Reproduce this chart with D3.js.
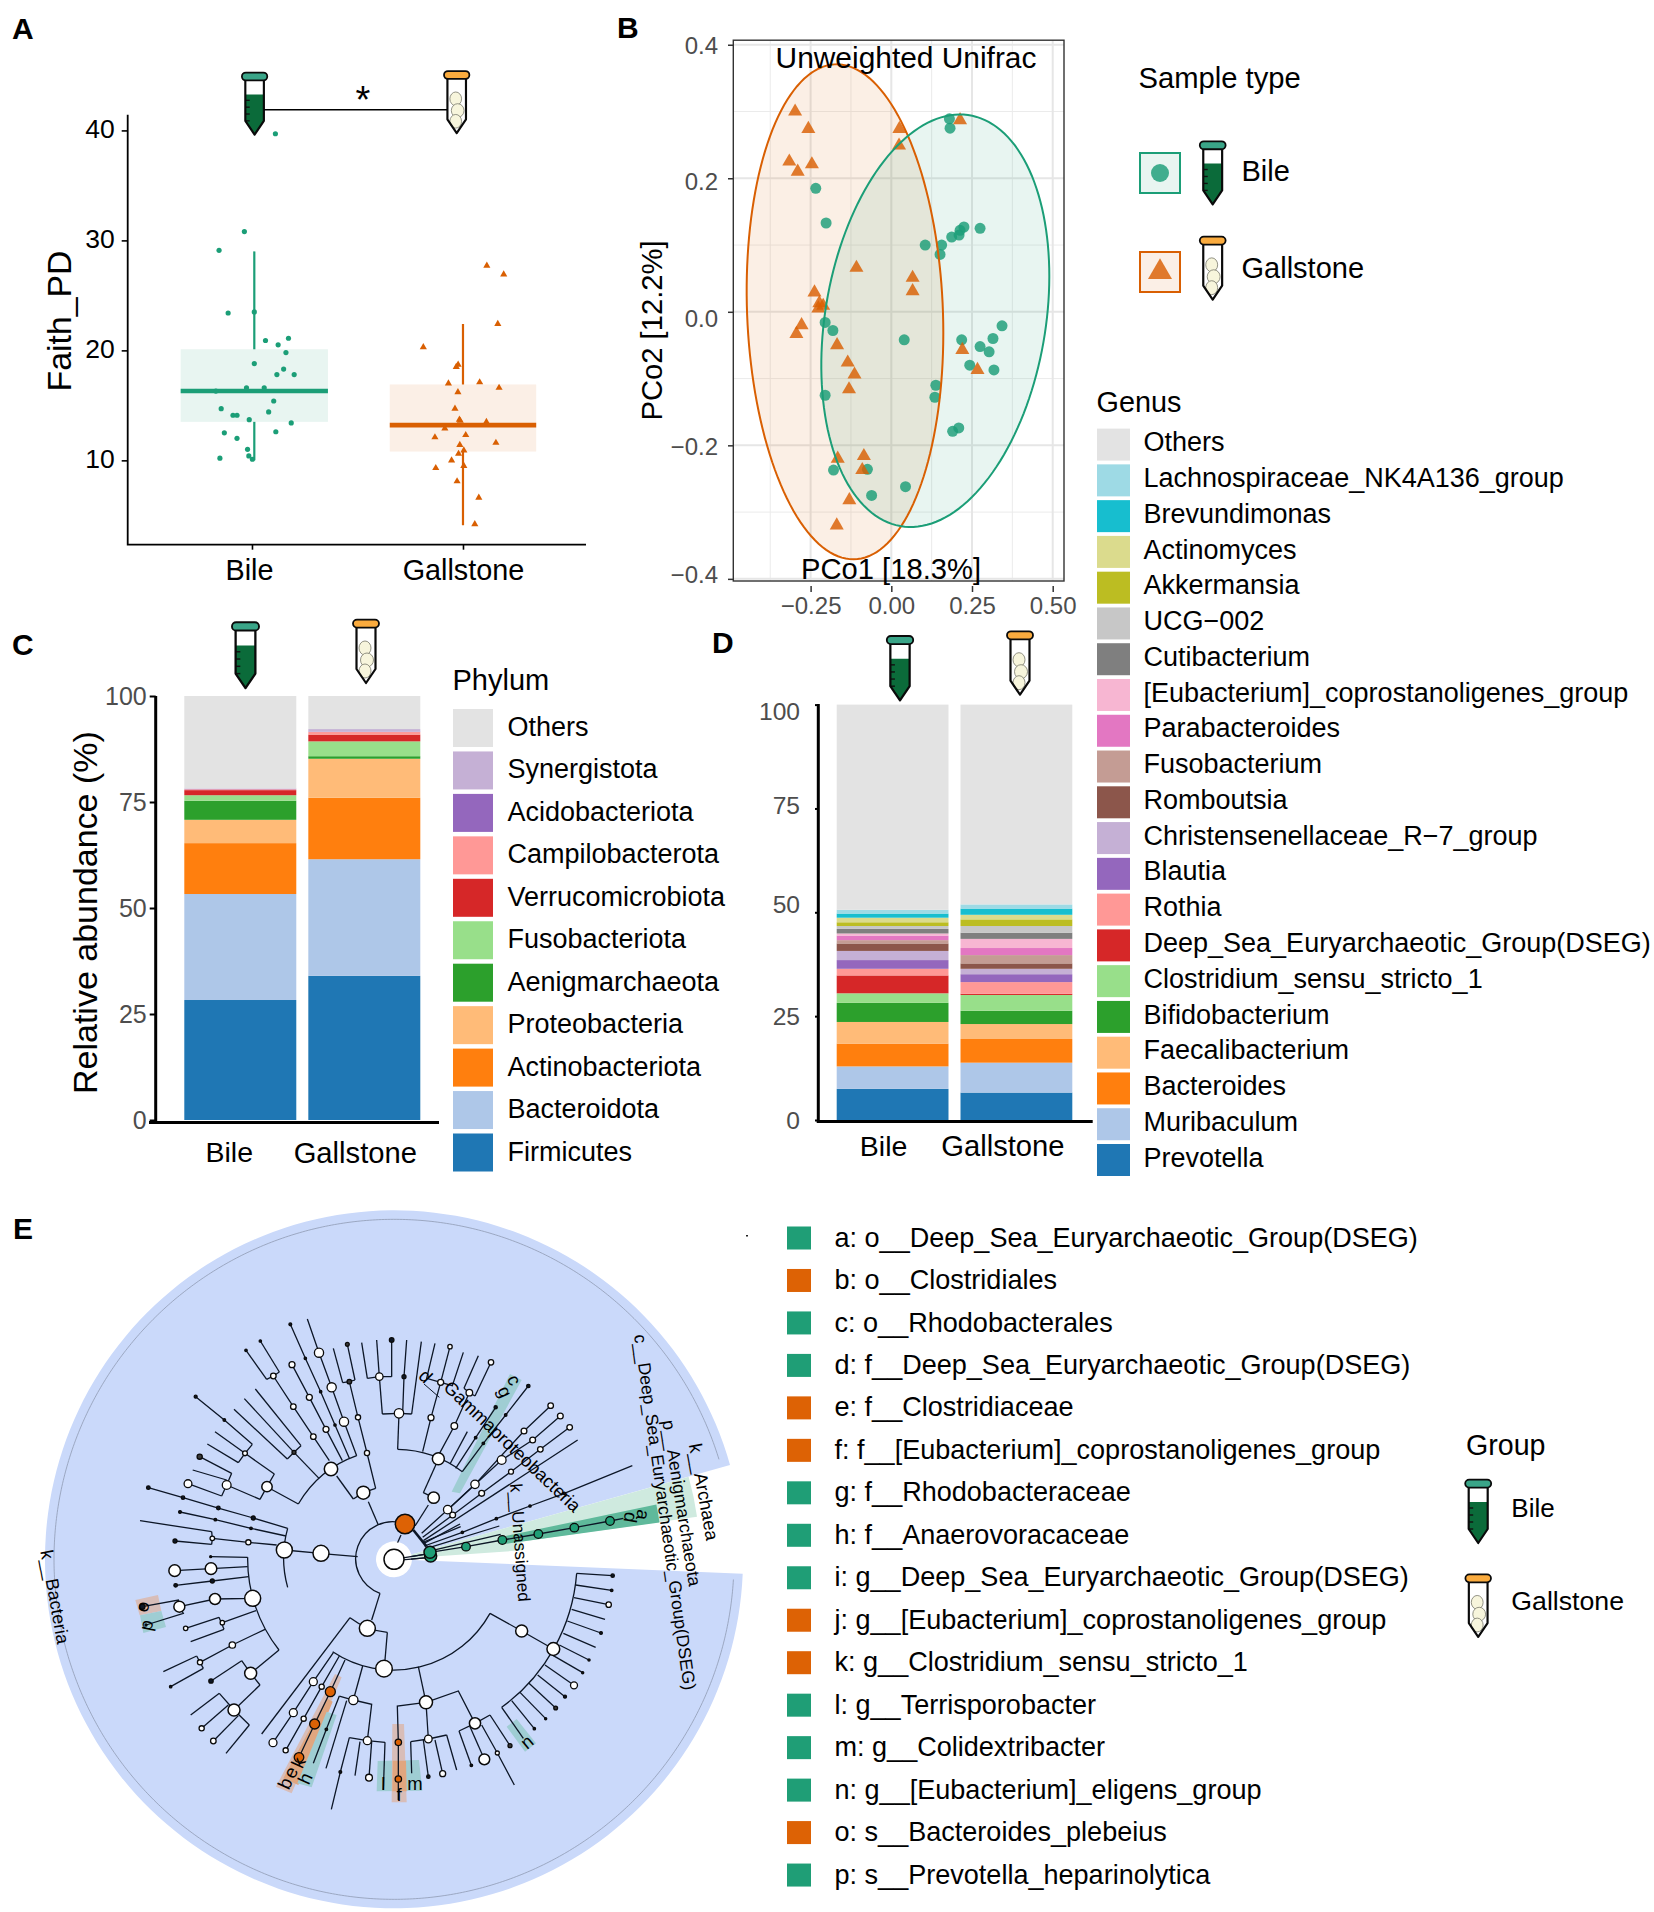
<!DOCTYPE html>
<html><head><meta charset="utf-8">
<script src="https://d3js.org/d3.v7.min.js"></script>
<style>html,body{margin:0;padding:0;background:#fff}svg{display:block}text{font-family:"Liberation Sans",Arial,sans-serif}</style>
</head><body><svg id="c" width="1654" height="1912" xmlns="http://www.w3.org/2000/svg"></svg>
<script>
// ---------- Panel A data ----------
const groups = ['Bile','Gallstone'];
const groupColors = ['#1b9e77','#d95f02'];
const faithBileX = [.111,-.036,-.156,-.113,.011,.064,.173,.124,.161,.011,.15,.118,.2,-.026,.058,-.171,.103,-.146,.079,-.09,-.071,-.013,.186,-.131,.113,-.071,-.021,-.015,.002,-.152];
const faithBileY = [39.7,30.8,29.1,23.4,23.5,20.9,21.1,20.5,19.8,18.8,18.3,17.8,17.8,16.6,16.6,16.3,15.4,14.7,14.4,14.1,14.1,13.7,13.4,12.5,12.6,12.0,11.0,10.4,10.1,10.2];
const faithGallX = [1.113,1.193,1.165,.812,.977,.968,.931,1.079,1.171,.976,.962,.983,.987,1.111,.914,1.013,.867,1.156,.985,1.004,.979,.946,.871,1.004,.972,1.075,1.056];
const faithGallY = [27.7,26.9,22.4,20.3,18.7,18.5,17.0,17.1,16.6,16.2,14.7,13.7,13.6,13.5,12.9,12.3,12.1,11.6,11.4,10.9,10.6,10.0,9.3,9.5,8.1,6.6,4.2];
const boxCenter = [.011,1.0];
const boxHalf = [.349,.347];
const boxQ1 = [13.5,10.8];
const boxMed = [16.3,13.2];
const boxQ3 = [20.1,16.9];
const boxLow = [10.0,4.1];
const boxHigh = [29.0,22.4];
const faithTicks = [10,20,30,40];
// ---------- Panel B data ----------
const pcoGallX = [-.298,-.257,.025,.213,.024,-.316,-.246,-.290,-.108,.066,.066,-.238,-.223,-.211,-.226,-.278,-.294,-.168,.220,-.135,-.114,.267,-.131,-.166,-.085,-.090,-.130,-.169];
const pcoGallY = [.300,.274,.274,.287,.249,.225,.221,.210,.066,.051,.031,.029,.013,.009,.005,-.020,-.033,-.050,-.057,-.076,-.094,-.087,-.116,-.220,-.216,-.237,-.282,-.320];
const pcoBileX = [.180,.182,-.234,-.202,.105,.156,.151,.187,.210,.213,.225,.275,-.205,-.181,.040,.218,.275,.303,.315,.343,.243,.318,.138,.135,-.205,.190,.209,-.179,-.074,-.061,.044];
const pcoBileY = [.289,.275,.185,.133,.100,.100,.086,.112,.115,.122,.127,.125,-.016,-.028,-.042,-.042,-.052,-.060,-.040,-.021,-.080,-.087,-.110,-.128,-.125,-.179,-.174,-.237,-.236,-.275,-.262];
const ellipseGall = {cx:-.1435,cy:0,rx:.3046,ry:.3707,phase:-.085};
const ellipseBile = {cx:.1363,cy:-.0134,rx:.3532,ry:.3089,phase:.218};
const pcoXTicks = [-.25,0,.25,.5];
const pcoYTicks = [-.4,-.2,0,.2,.4];
const pcoXMinor = [-.375,-.125,.125,.375];
const pcoYMinor = [-.3,-.1,.1,.3];
// ---------- Panel C data (bottom to top) ----------
const phyla = ['Firmicutes','Bacteroidota','Actinobacteriota','Proteobacteria','Aenigmarchaeota','Fusobacteriota','Verrucomicrobiota','Campilobacterota','Acidobacteriota','Synergistota','Others'];
const phylaBile = [28.3,25.0,12.0,5.5,4.5,1.3,1.2,.2,.1,.1,21.8];
const phylaGall = [34.0,27.5,14.5,9.2,.6,3.5,1.6,.6,.1,.6,7.8];
const phylaColors = ['#1f77b4','#aec7e8','#ff7f0e','#ffbb78','#2ca02c','#98df8a','#d62728','#ff9896','#9467bd','#c5b0d5','#e3e3e3'];
// ---------- Panel D data (bottom to top) ----------
const genera = ['Prevotella','Muribaculum','Bacteroides','Faecalibacterium','Bifidobacterium','Clostridium_sensu_stricto_1','Deep_Sea_Euryarchaeotic_Group(DSEG)','Rothia','Blautia','Christensenellaceae_R\u22127_group','Romboutsia','Fusobacterium','Parabacteroides','[Eubacterium]_coprostanoligenes_group','Cutibacterium','UCG\u2212002','Akkermansia','Actinomyces','Brevundimonas','Lachnospiraceae_NK4A136_group','Others'];
const generaBile = [7.5,5.4,5.5,5.2,4.6,2.3,4.3,1.6,2.1,2.2,1.8,.8,1.1,.5,1.1,.7,.9,1.1,1.0,.9,49.4];
const generaGall = [6.6,7.2,5.7,3.6,3.2,3.8,.3,2.8,1.9,1.3,1.3,2.0,1.7,2.2,1.5,1.6,1.6,1.1,1.5,1.0,48.1];
const generaColors = ['#1f77b4','#aec7e8','#ff7f0e','#ffbb78','#2ca02c','#98df8a','#d62728','#ff9896','#9467bd','#c5b0d5','#8c564b','#c49c94','#e377c2','#f7b6d2','#7f7f7f','#c7c7c7','#bcbd22','#dbdb8d','#17becf','#9edae5','#e3e3e3'];
const abundTicks = [0,25,50,75,100];
// ---------- Panel E data ----------
const lefseLabels = ['a: o__Deep_Sea_Euryarchaeotic_Group(DSEG)','b: o__Clostridiales','c: o__Rhodobacterales','d: f__Deep_Sea_Euryarchaeotic_Group(DSEG)','e: f__Clostridiaceae','f: f__[Eubacterium]_coprostanoligenes_group','g: f__Rhodobacteraceae','h: f__Anaerovoracaceae','i: g__Deep_Sea_Euryarchaeotic_Group(DSEG)','j: g__[Eubacterium]_coprostanoligenes_group','k: g__Clostridium_sensu_stricto_1','l: g__Terrisporobacter','m: g__Colidextribacter','n: g__[Eubacterium]_eligens_group','o: s__Bacteroides_plebeius','p: s__Prevotella_heparinolytica'];
const lefseGroup = [0,1,0,0,1,1,0,0,0,1,1,0,0,0,1,0];
// Tree layout values, in tree units (root at 822,748).
const treeLines = [
 [822,722,843,675],[822,748,932,730],[822,752,932,742],
 [713,740,633,733,603,730,493,720],
 [503,655,400,624,295,594,189,563,85,533],[498,678,393,655,286,629,180,606],
 [470,705,385,697,277,685],[275,665,277,685,275,703],[275,665,60,632],[275,703,165,693],
 [420,858,398,865,285,867,178,890],[178,890,175,870,67,890],[178,890,190,910,78,945],
 [383,742,272,740],[383,770,273,776,164,782],[386,800,277,813,167,826],
 [408,902,307,938],[297,922,312,958],[297,922,197,955],[312,958,212,995],
 [435,958,337,1005,240,1057],[230,1038,250,1075],[230,1038,130,1085],[250,1075,152,1130],
 [477,1020,392,1090],[365,1052,392,1090,420,1125],[365,1052,273,1113],[420,1125,342,1200],
 [298,1150,342,1200,388,1245],[298,1150,212,1215],[325,1185,245,1255],[355,1217,280,1293],[388,1245,318,1330],
 [775,645,745,575],[700,567,650,498],[767,535,741,429,714,322,688,215],[668,218,688,215,705,210],[668,218,640,115],[705,210,682,103],
 [710,437,672,335,635,232,597,128,562,27],[688,445,645,345,602,245,556,145,511,43],[667,452,618,358,568,262,516,164],[628,452,580,380,520,290,460,198],
 [440,208,460,198,478,186],[440,208,378,121],[478,186,421,93],
 [597,505,522,427],[502,447,522,427,543,407],[502,447,342,298],[543,407,406,237],[522,427,373,266],
 [535,582,458,540,441,530],[420,568,441,530,463,492],[463,492,375,430],[355,458,375,430,397,403],[355,458,262,402],[375,430,285,365],[397,403,313,330,227,260],
 [420,568,320,525],[335,490,320,525,305,558],[335,490,239,440],[320,510,218,480],[305,558,204,521],
 [833,418,837,310],[787,312,837,310,875,312],[787,312,778,200],[742,205,778,200,815,200],[742,205,725,98],[778,200,770,90],[815,200,815,90],[875,312,904,95],[848,310,852,200,860,90],
 [908,425,933,323,962,217],[962,217,997,227,1030,127],[962,217,990,110],[962,217,920,205,945,100],
 [950,446,1003,348,1048,248],[1032,235,1048,248,1065,258],[1032,235,1075,137],[1065,258,1113,157],
 [990,462,1042,365],[1007,475,1067,383,1127,292],[1027,485,1090,400,1157,315,1225,228],
 [885,648,925,585],[910,548,941,563],[910,548,955,448],
 [905,670,983,599,1065,523,1212,363,1292,287],[983,599,1145,450,1238,390,1321,318],[908,682,998,615,1085,550,1173,485,1261,418,1349,352],
 [910,692,1373,390],[912,700,1020,642],[911,696,1022,650],[913,708,1027,667,1129,626,1230,588,1333,550,1537,467],[920,715,1138,648],[922,725,1142,673],
 [930,727,1038,710,1147,690,1255,672,1363,653,1470,633,1510,625],
 [780,850,755,930],[690,923,425,1272],[802,967,795,1050],
 [640,1028,580,1115,520,1208,459,1298],[658,1038,605,1130,551,1226,497,1321],[675,1050,631,1145,584,1242,537,1342],
 [728,1068,700,1170],[658,1158,700,1170,755,1183,742,1292],[658,1158,619,1258,580,1360],[680,1172,618,1375],
 [688,1283,742,1292,795,1297],[688,1283,661,1386,634,1498],[720,1295,705,1397],[755,1295,747,1403],[795,1297,790,1440],
 [895,1070,918,1177],[918,1177,832,1188,835,1297,835,1407,835,1470],[918,1177,1015,1143,1065,1240],[918,1177,925,1287],
 [872,1295,925,1287,980,1275],[872,1295,875,1390],[910,1290,925,1400],[945,1290,968,1391],[980,1275,1010,1380],
 [1017,1263,1065,1240,1110,1215],[1017,1263,1054,1366],[1050,1250,1093,1348],[1110,1215,1170,1307],[1085,1245,1132,1329,1183,1425],
 [1110,910,1205,963,1300,1017],
 [1370,790,1478,797],[1367,825,1475,841],[1362,863,1466,884],[1355,898,1455,928],[1342,933,1443,969],[1330,970,1427,1012],[1318,1005,1407,1050],[1300,1037,1388,1088],[1275,1065,1362,1126],[1253,1095,1335,1160],[1227,1120,1307,1194],[1200,1147,1277,1226],[1175,1172,1243,1256],[1145,1192,1210,1285]
];
const treeArcs = [[780,850,855,642],[1110,910,638,1025],[833,418,1027,485],[535,582,710,437],[503,832,503,655],[477,1020,383,742],[700,567,767,535],[802,967,690,923],[1370,790,1145,1192]];
const treeHeavy = [[880,660,920,710]];
const treeNodes = [
 [603,730,8,'w'],[493,720,8,'w'],[855,642,9.7,'o'],[822,748,10,'w'],
 [400,624,2,'k'],[295,594,1.8,'k'],[189,563,1.7,'k'],[85,533,1.8,'k'],[393,655,1.3,'k'],[286,629,1.3,'k'],[180,606,1.4,'k'],[385,697,2.6,'w'],[277,685,2.3,'w'],[165,693,2,'k'],
 [398,865,8,'w'],[285,867,5.5,'w'],[178,890,5.5,'w'],[67,890,2.6,'k'],[78,945,1,'k'],[272,740,1,'k'],[273,776,5.8,'w'],[164,782,5.8,'w'],[277,813,2,'k'],[167,826,1.8,'k'],
 [307,938,2.2,'w'],[197,955,2.2,'w'],[337,1005,3.2,'w'],[240,1057,2.6,'w'],[152,1130,1.2,'k'],
 [392,1090,6,'w'],[273,1113,2.2,'k'],[342,1200,6,'w'],[245,1255,2.6,'w'],[280,1293,2.8,'w'],
 [730,548,6.5,'w'],[633,477,6.7,'w'],[741,429,2.6,'w'],[714,322,2.6,'w'],[688,215,2.3,'d'],[682,103,1.9,'d'],
 [672,335,4.6,'w'],[635,232,4.6,'w'],[597,128,4.6,'w'],[645,345,1.2,'k'],[602,245,1.2,'k'],[556,145,1.2,'k'],[511,43,1.4,'k'],
 [618,358,3,'w'],[568,262,3,'w'],[516,164,3,'w'],[580,380,2.8,'w'],[520,290,2.8,'w'],[460,198,2.8,'w'],[378,121,1.2,'k'],[421,93,1.2,'k'],[522,427,2,'d'],
 [441,530,5.2,'w'],[375,430,2.4,'w'],[313,330,1.3,'k'],[227,260,1.5,'k'],[320,525,4.4,'w'],[239,440,2.6,'d'],[204,521,3.9,'w'],
 [955,446,6,'w'],[941,563,5.7,'w'],[837,310,4.7,'w'],[778,200,3.7,'w'],[815,90,2.3,'k'],[852,200,2,'k'],[933,323,3,'w'],[962,217,3,'w'],[990,110,2.2,'w'],[1003,348,3.3,'w'],[1048,248,3.3,'w'],[1113,157,2.7,'w'],[1067,383,1.3,'k'],[1127,292,1.6,'k'],[1090,400,1.3,'k'],[1157,315,1.3,'k'],[1225,228,1.7,'k'],
 [983,599,4.2,'w'],[1065,523,4.2,'w'],[1212,363,2.9,'w'],[1292,287,2.8,'w'],[1145,450,4.4,'w'],[1238,390,2.9,'w'],[1321,318,2.9,'w'],[998,615,2.9,'w'],[1085,550,2.9,'w'],[1173,485,2.5,'w'],[1261,418,2.8,'w'],[1349,352,2.8,'w'],
 [1027,667,1.2,'k'],[1129,626,1.2,'k'],[1230,588,1.2,'k'],[1333,550,1.2,'k'],
 [932,738,6,'g'],[930,727,6,'g'],[1038,710,4.3,'g'],[1147,690,4.3,'g'],[1255,672,4.3,'g'],[1363,653,4.3,'g'],[1470,633,4.3,'g'],
 [742,955,8,'w'],[792,1076,8.3,'w'],[580,1115,4,'w'],[520,1208,4,'w'],[459,1298,4,'w'],[605,1130,2.6,'w'],[551,1226,2.6,'w'],[497,1321,2.6,'w'],
 [631,1145,5,'o'],[584,1242,5,'o'],[537,1342,4.8,'o'],[700,1170,4.6,'w'],[619,1258,1.3,'k'],[742,1292,4,'w'],[661,1386,1.4,'k'],[747,1403,3.4,'w'],
 [918,1177,6.5,'w'],[835,1297,3.2,'o'],[835,1407,3.2,'o'],[1065,1240,5.6,'w'],[925,1287,3.8,'w'],[925,1400,1.7,'k'],[968,1391,3,'w'],[1054,1366,1.3,'k'],[1093,1348,5.4,'w'],[1170,1307,2,'d'],[1132,1329,2,'w'],
 [1205,963,6,'w'],[1300,1017,6.4,'w'],[1478,797,1.7,'k'],[1475,841,1.3,'k'],[1466,884,2.7,'w'],[1443,969,1.4,'k'],[1407,1050,1.1,'k'],[1388,1088,1.1,'k'],[1362,1126,3.5,'w'],[1335,1160,1.5,'k'],[1307,1194,1.9,'d'],[1277,1226,1.1,'k'],[1243,1256,1.2,'k']
];
const cladeWedges = [
 {a0:4,a1:15.67,r0:18,r1:129,fill:'#cfeadf'},
 {a0:8,a1:15.67,r0:129,r1:306,fill:'#cfeadf'},
 {a0:7.9,a1:11.8,r0:112,r1:268,fill:'#5fb99b'}
];
const cladeBands = [
 {fill:'#9fcdd3',pts:[995,545,1020,550,1205,210,1170,192]},
 {fill:'#d8bdb8',pts:[645,1092,665,1102,515,1450,468,1430]},
 {fill:'#e0a67f',pts:[620,1165,638,1175,535,1425,490,1405]},
 {fill:'#9fcdd3',pts:[620,1205,650,1215,575,1432,532,1420]},
 {fill:'#9fcdd3',pts:[773,1353,897,1350,907,1442,770,1444]},
 {fill:'#d8bdb8',pts:[817,1242,852,1242,860,1477,815,1477]},
 {fill:'#e0a67f',pts:[818,1352,858,1352,860,1444,817,1444]},
 {fill:'#9fcdd3',pts:[1160,1250,1190,1227,1248,1300,1215,1325]},
 {fill:'#d8bdb8',pts:[46,870,114,855,124,903,59,916]},
 {fill:'#9fcdd3',pts:[60,916,124,903,138,951,70,969]}
];
const cladeLetters = [['a',1570,615,100],['d',1532,622,100],['g',1155,245,65],['c',1183,210,65],['d',917,198,45],['b',495,1420,-65],['e',512,1387,-65],['k',535,1358,-65],['h',555,1405,-65],['l',790,1420,0],['f',837,1455,0],['m',885,1420,0],['n',1220,1295,-40],['p',78,945,-78],['o',67,890,-78]];
const pcoYLabelShift = [-3.6,1.2,7.3,3.6,1];

// ---------- drawing ----------
const svg = d3.select('#c');
const text = (s,x,y,size,opt={})=>{
  const t = svg.append('text').attr('x',x).attr('y',y).attr('font-size',size).attr('fill',opt.fill||'#000').text(s);
  if(opt.anchor) t.attr('text-anchor',opt.anchor);
  if(opt.weight) t.attr('font-weight',opt.weight);
  if(opt.rot!==undefined) t.attr('x',0).attr('y',0).attr('transform',`translate(${x},${y}) rotate(${opt.rot})`);
  return t;
};
function tube(kind,cx,top,h){
  const s=h/65, g=svg.append('g').attr('transform',`translate(${cx},${top}) scale(${s})`);
  const body='M-9.5,7 L-9.5,50 L0,64 L9.5,50 L9.5,7 Z';
  g.append('path').attr('d',body).attr('fill','#fff');
  if(kind===0){
    g.append('path').attr('d','M-9.5,23 L9.5,23 L9.5,50 L0,64 L-9.5,50 Z').attr('fill','#0b6b3a');
    [29,36,43,50].forEach(y=>g.append('line').attr('x1',-9.5).attr('x2',-5).attr('y1',y).attr('y2',y).attr('stroke','#111').attr('stroke-width',1.4));
  } else {
    [[-1,29,6,7],[1,41,6.5,7],[-1,52,6,7]].forEach(b=>g.append('ellipse').attr('cx',b[0]).attr('cy',b[1]).attr('rx',b[2]).attr('ry',b[3]).attr('fill','#f7f5dc').attr('stroke','#77776a').attr('stroke-width',.8));
  }
  g.append('path').attr('d',body).attr('fill','none').attr('stroke','#0a0a0a').attr('stroke-width',2.2).attr('stroke-linejoin','round');
  g.append('rect').attr('x',-13).attr('y',0.6).attr('width',26).attr('height',8).attr('rx',4).attr('fill',kind===0?'#3aa588':'#faab3e').attr('stroke','#0a0a0a').attr('stroke-width',1.8);
}
function styleAxis(g,size,color,sw,lineColor){
  g.select('.domain').remove();
  g.selectAll('.tick line').attr('stroke',lineColor||'#000').attr('stroke-width',sw);
  g.selectAll('.tick text').attr('font-size',size).attr('fill',color).attr('font-family','"Liberation Sans",Arial,sans-serif');
}
const minusFmt = f => v => d3.format(f)(v).replace('-','\u2212');
const tri = a => d3.symbol().type(d3.symbolTriangle).size(a)();
const circ = a => d3.symbol().type(d3.symbolCircle).size(a)();

// panel letters
[['A',12,39],['B',617,38],['C',12,655],['D',712,653],['E',13,1239]].forEach(d=>text(d[0],d[1],d[2],30,{weight:'bold'}));

// ===== Panel A =====
const xA = d3.scaleLinear().domain([-.589,1.583]).range([127.7,586]);
const yA = d3.scaleLinear().domain([2.33,41.42]).range([544.7,114.8]);
groups.forEach((g,i)=>{
  const gg = svg.append('g');
  gg.append('line').attr('x1',xA(boxCenter[i])).attr('x2',xA(boxCenter[i])).attr('y1',yA(boxLow[i])).attr('y2',yA(boxHigh[i])).attr('stroke',groupColors[i]).attr('stroke-width',2.2);
  gg.append('rect').attr('x',xA(boxCenter[i]-boxHalf[i])).attr('width',xA(boxHalf[i]*2)-xA(0)).attr('y',yA(boxQ3[i])).attr('height',yA(boxQ1[i])-yA(boxQ3[i])).attr('fill',i?'#fbefe6':'#e8f5f1');
  gg.append('line').attr('x1',xA(boxCenter[i]-boxHalf[i])).attr('x2',xA(boxCenter[i]+boxHalf[i])).attr('y1',yA(boxMed[i])).attr('y2',yA(boxMed[i])).attr('stroke',groupColors[i]).attr('stroke-width',4.6);
});
svg.append('g').selectAll('path').data(faithBileY).join('path').attr('d',circ(21)).attr('fill',groupColors[0])
  .attr('transform',(d,i)=>`translate(${xA(faithBileX[i])},${yA(d)})`);
svg.append('g').selectAll('path').data(faithGallY).join('path').attr('d',tri(22)).attr('fill',groupColors[1])
  .attr('transform',(d,i)=>`translate(${xA(faithGallX[i])},${yA(d)})`);
const axAy = svg.append('g').attr('transform',`translate(${xA.range()[0]},0)`).call(d3.axisLeft(yA).tickValues(faithTicks).tickSize(6).tickPadding(7));
styleAxis(axAy,26.5,'#000',1.6);
axAy.selectAll('.tick text').attr('dy','.27em');
const axAx = svg.append('g').attr('transform',`translate(0,${yA.range()[0]})`).call(d3.axisBottom(xA).tickValues([0,1]).tickFormat(i=>groups[i]).tickSize(5).tickPadding(10));
styleAxis(axAx,28.8,'#000',1.6);
axAx.selectAll('.tick').filter(d=>d===0).select('text').attr('x',-3);
svg.append('path').attr('d',`M${xA.range()[0]},${yA.range()[1]}V${yA.range()[0]}H${xA.range()[1]}`).attr('fill','none').attr('stroke','#000').attr('stroke-width',1.8);
text('Faith_PD',71,321,33.8,{rot:-90,anchor:'middle'});
tube(0,254.6,72,63.5); tube(1,456.7,70.5,63.5);
svg.append('line').attr('x1',264).attr('x2',447).attr('y1',109.7).attr('y2',109.7).attr('stroke','#000').attr('stroke-width',1.4);
text('*',363,113,38,{anchor:'middle'});

// ===== Panel B =====
const xB = d3.scaleLinear().domain([-.4895,.535]).range([733.3,1064]);
const yB = d3.scaleLinear().domain([-.4032,.4068]).range([581,40.2]);
const gridB = svg.append('g');
pcoXMinor.forEach(v=>gridB.append('line').attr('x1',xB(v)).attr('x2',xB(v)).attr('y1',yB.range()[0]).attr('y2',yB.range()[1]).attr('stroke','#ebebeb').attr('stroke-width',1));
pcoYMinor.forEach(v=>gridB.append('line').attr('y1',yB(v)).attr('y2',yB(v)).attr('x1',xB.range()[0]).attr('x2',xB.range()[1]).attr('stroke','#ebebeb').attr('stroke-width',1));
pcoXTicks.forEach(v=>gridB.append('line').attr('x1',xB(v)).attr('x2',xB(v)).attr('y1',yB.range()[0]).attr('y2',yB.range()[1]).attr('stroke','#e6e6e6').attr('stroke-width',2));
pcoYTicks.forEach(v=>gridB.append('line').attr('y1',yB(v)).attr('y2',yB(v)).attr('x1',xB.range()[0]).attr('x2',xB.range()[1]).attr('stroke','#e6e6e6').attr('stroke-width',2));
const ellipseLine = e => d3.line().x(t=>xB(e.cx+e.rx*Math.cos(t))).y(t=>yB(e.cy+e.ry*Math.sin(t+e.phase))).curve(d3.curveLinearClosed)(d3.range(0,Math.PI*2,.04));
[[ellipseGall,1],[ellipseBile,0]].forEach(([e,i])=>{
  svg.append('path').attr('d',ellipseLine(e)).attr('fill',groupColors[i]).attr('fill-opacity',.1).attr('stroke','none');
});
svg.append('g').selectAll('path').data(pcoBileY).join('path').attr('d',circ(95)).attr('fill',groupColors[0]).attr('fill-opacity',.82)
  .attr('transform',(d,i)=>`translate(${xB(pcoBileX[i])},${yB(d)})`);
svg.append('g').selectAll('path').data(pcoGallY).join('path').attr('d',tri(85)).attr('fill',groupColors[1]).attr('fill-opacity',.82)
  .attr('transform',(d,i)=>`translate(${xB(pcoGallX[i])},${yB(d)})`);
[[ellipseGall,1],[ellipseBile,0]].forEach(([e,i])=>{
  svg.append('path').attr('d',ellipseLine(e)).attr('fill','none').attr('stroke',groupColors[i]).attr('stroke-width',2);
});
svg.append('rect').attr('x',733.3).attr('y',40.2).attr('width',330.7).attr('height',540.8).attr('fill','none').attr('stroke','#333').attr('stroke-width',1.4);
const axBy = svg.append('g').attr('transform','translate(733,0)').call(d3.axisLeft(yB).tickValues(pcoYTicks).tickFormat(minusFmt('.1f')).tickSize(5).tickPadding(10));
styleAxis(axBy,24,'#4d4d4d',1.5,'#333');
axBy.selectAll('.tick text').attr('y',(d,i)=>pcoYLabelShift[i]);
const axBx = svg.append('g').attr('transform','translate(0,586)').call(d3.axisBottom(xB).tickValues(pcoXTicks).tickFormat(minusFmt('.2f')).tickSize(6).tickPadding(5));
styleAxis(axBx,24,'#4d4d4d',1.5,'#333');
text('Unweighted Unifrac',906,68,29.9,{anchor:'middle'});
text('PCo1 [18.3%]',891,579,29.2,{anchor:'middle'});
text('PCo2 [12.2%]',662,330.5,29.2,{rot:-90,anchor:'middle'});
// legend B
text('Sample type',1138.5,88.3,29.2);
svg.append('rect').attr('x',1140).attr('y',153).attr('width',40).attr('height',40).attr('fill','#e8f5f1').attr('stroke',groupColors[0]).attr('stroke-width',2);
svg.append('path').attr('d',circ(255)).attr('fill',groupColors[0]).attr('fill-opacity',.82).attr('transform','translate(1160,173)');
svg.append('rect').attr('x',1140).attr('y',252).attr('width',40).attr('height',40).attr('fill','#fbefe6').attr('stroke',groupColors[1]).attr('stroke-width',2);
svg.append('path').attr('d',tri(250)).attr('fill',groupColors[1]).attr('fill-opacity',.82).attr('transform','translate(1160,272)');
tube(0,1212.7,140.7,64.6); tube(1,1212.7,236,64.6);
text('Bile',1241.5,180.7,29); text('Gallstone',1241.5,278.3,29);

// ===== stacked bars =====
function stacked(keys,a,b,colors,x0,x1,y0,y1){
  const table = groups.map((g,i)=>{const r={group:g}; keys.forEach((k,j)=>r[k]=(i?b:a)[j]); return r;});
  const series = d3.stack().keys(keys)(table);
  const xs = d3.scaleBand().domain(groups).range([x0,x1]).paddingInner(.097).paddingOuter(0);
  const ys = d3.scaleLinear().domain([0,100]).range([y0,y1]);
  svg.append('g').selectAll('g').data(series).join('g').attr('fill',(d,i)=>colors[i])
    .selectAll('rect').data(d=>d).join('rect')
    .attr('x',d=>xs(d.data.group)).attr('width',xs.bandwidth())
    .attr('y',d=>ys(d[1])).attr('height',d=>ys(d[0])-ys(d[1]));
  return [xs,ys];
}
// Panel C
const [xC,yC] = stacked(phyla,phylaBile,phylaGall,phylaColors,184.3,420.3,1120,696);
const axCy = svg.append('g').attr('transform','translate(155.7,0)').call(d3.axisLeft(yC).tickValues(abundTicks).tickSize(6).tickPadding(3));
styleAxis(axCy,25,'#4d4d4d',2);
svg.append('path').attr('d','M155.7,696V1122.5').attr('stroke','#000').attr('stroke-width',3).attr('fill','none');
svg.append('path').attr('d','M149,1122.5H439').attr('stroke','#000').attr('stroke-width',3).attr('fill','none');
text('Relative abundance (%)',97,912.6,34,{rot:-90,anchor:'middle'});
text(groups[0],xC(groups[0])+xC.bandwidth()/2-11,1162,28.5,{anchor:'middle'});
text(groups[1],xC(groups[1])+xC.bandwidth()/2-9,1163,29.2,{anchor:'middle'});
tube(0,245.5,621.6,67.6); tube(1,366,619,65);
text('Phylum',452.5,690,29);
phyla.slice().reverse().forEach((p,i)=>{
  const cy=728+i*42.45;
  svg.append('rect').attr('x',453).attr('y',cy-19).attr('width',40).attr('height',38).attr('fill',phylaColors[phyla.length-1-i]);
  text(p,507.5,cy+8,27);
});
// Panel D
const [xD,yD] = stacked(genera,generaBile,generaGall,generaColors,836.7,1072.3,1120,704.6);
const axDy = svg.append('g').attr('transform','translate(818,0)').call(d3.axisLeft(yD).tickValues(abundTicks).tickSize(3).tickPadding(15));
styleAxis(axDy,24.6,'#4d4d4d',2);
axDy.selectAll('.tick text').attr('dy','.33em');
axDy.selectAll('.tick').filter(d=>d===100).select('text').attr('y',7);
axDy.selectAll('.tick').filter(d=>d===75).select('text').attr('y',-3.5);
axDy.selectAll('.tick').filter(d=>d===50).select('text').attr('y',-8);
axDy.selectAll('.tick').filter(d=>d===25).select('text').attr('y',0);
axDy.selectAll('.tick').filter(d=>d===0).select('text').attr('y',0);
svg.append('path').attr('d','M818.3,704V1121.5').attr('stroke','#000').attr('stroke-width',3).attr('fill','none');
svg.append('path').attr('d','M816.7,1121.5H1092.7').attr('stroke','#000').attr('stroke-width',3).attr('fill','none');
text(groups[0],xD(groups[0])+xD.bandwidth()/2-9,1156,28.5,{anchor:'middle'});
text(groups[1],xD(groups[1])+xD.bandwidth()/2-13.5,1156,29.2,{anchor:'middle'});
tube(0,900,635.4,66); tube(1,1020,630.7,65);
text('Genus',1096.5,412,28.8);
genera.slice().reverse().forEach((p,i)=>{
  const cy=444.6+i*35.77;
  svg.append('rect').attr('x',1097).attr('y',cy-16).attr('width',33).attr('height',32).attr('fill',generaColors[genera.length-1-i]);
  text(p,1143.5,cy+6.6,27);
});

// ===== Panel E =====
const treeX = d3.scaleLinear().domain([0,1890]).range([120,750]);
const treeY = d3.scaleLinear().domain([0,1800]).range([1310,1910]);
const cx0 = treeX(822), cy0 = treeY(748);
const deg = a => (90-a)*Math.PI/180; // angle counter-clockwise from east -> d3.arc angle
const ringG = svg.append('g').attr('transform',`translate(${cx0},${cy0})`);
ringG.append('path').attr('fill','#cad9fa').attr('d',d3.arc()({innerRadius:18,outerRadius:349,startAngle:deg(-2.35),endAngle:deg(15.67)+Math.PI*2}));
const thinLine = d3.lineRadial().angle(d=>d*Math.PI/180).radius(340);
ringG.append('path').attr('fill','none').attr('stroke','#8f9ab3').attr('stroke-width',.8).attr('d',thinLine(d3.range(93.4,360+73.2,.5)));
ringG.selectAll('path.wedge').data(cladeWedges).join('path').attr('class','wedge').attr('fill',d=>d.fill)
  .attr('d',d=>d3.arc()({innerRadius:d.r0,outerRadius:d.r1,startAngle:deg(d.a1),endAngle:deg(d.a0)}));
const pairs = a => d3.range(0,a.length,2).map(i=>[treeX(a[i]),treeY(a[i+1])]);
svg.append('g').selectAll('polygon').data(cladeBands).join('polygon').attr('fill',d=>d.fill)
  .attr('points',d=>pairs(d.pts).map(p=>p.join(',')).join(' '));
const lineG = svg.append('g').attr('fill','none').attr('stroke','#0c1626').attr('stroke-width',1.3);
lineG.selectAll('path.l').data(treeLines).join('path').attr('class','l').attr('d',d=>d3.line()(pairs(d)));
lineG.selectAll('path.h').data(treeHeavy).join('path').attr('class','h').attr('stroke-width',2.6).attr('d',d=>d3.line()(pairs(d)));
lineG.selectAll('path.a').data(treeArcs).join('path').attr('class','a').attr('d',d=>{
  const [p,q]=pairs(d), r=Math.hypot(p[0]-cx0,p[1]-cy0);
  return `M${p[0]},${p[1]}A${r},${r} 0 0 1 ${q[0]},${q[1]}`;
});
// white root halo
svg.append('circle').attr('cx',cx0).attr('cy',cy0).attr('r',17).attr('fill','#fff');
svg.append('line').attr('x1',treeX(822)).attr('y1',treeY(748)).attr('x2',treeX(932)).attr('y2',treeY(730)).attr('stroke','#0c1626').attr('stroke-width',1.3);
svg.append('line').attr('x1',treeX(822)).attr('y1',treeY(752)).attr('x2',treeX(932)).attr('y2',treeY(742)).attr('stroke','#0c1626').attr('stroke-width',1.3);
const nodeFill = {w:'#fff',k:'#0c1626',d:'#3a3a3a',o:'#dd6205',g:'#1f9e76'};
svg.append('g').selectAll('circle').data(treeNodes).join('circle')
  .attr('cx',d=>treeX(d[0])).attr('cy',d=>treeY(d[1])).attr('r',d=>d[2])
  .attr('fill',d=>nodeFill[d[3]]).attr('stroke','#0a0a0a').attr('stroke-width',d=>d[2]>5?1.5:1.3);
svg.append('g').selectAll('text').data(cladeLetters).join('text').attr('font-size',18.5).attr('text-anchor','middle').attr('dy','.35em').text(d=>d[0])
  .attr('transform',d=>`translate(${treeX(d[1])},${treeY(d[2])}) rotate(${d[3]})`);
text('k__Bacteria',48.8,1598,18,{rot:79.6,anchor:'middle'});
text('k__Archaea',697.6,1493,18.4,{rot:79.6,anchor:'middle'});
text('p__Aenigmarchaeota',675.6,1504,17.7,{rot:80.8,anchor:'middle'});
text('c__Deep_Sea_Euryarchaeotic_Group(DSEG)',659,1513,17.6,{rot:82,anchor:'middle'});
text('Gammaproteobacteria',508,1451,18.2,{rot:43.5,anchor:'middle'});
text('k__Unassigned',514.2,1543,17.2,{rot:86,anchor:'middle'});
svg.append('line').attr('x1',treeX(912)).attr('y1',treeY(222)).attr('x2',treeX(958)).attr('y2',treeY(262)).attr('stroke','#0c1626').attr('stroke-width',1);
// list E
svg.append('rect').attr('x',746).attr('y',1235).attr('width',2).attr('height',1.5).attr('fill','#222');
lefseLabels.forEach((s,i)=>{
  const cy=1238+i*42.47;
  svg.append('rect').attr('x',787).attr('y',cy-11.5).attr('width',24).attr('height',23).attr('fill',lefseGroup[i]?'#dd6205':'#1f9e76');
  text(s,834.5,cy+8.6,27.05);
});
text('Group',1466,1454.6,28.6);
tube(0,1478.2,1479,65); tube(1,1478.2,1573.8,64);
text('Bile',1511.3,1517,26); text('Gallstone',1511.3,1610.4,26.7);
</script></body></html>
